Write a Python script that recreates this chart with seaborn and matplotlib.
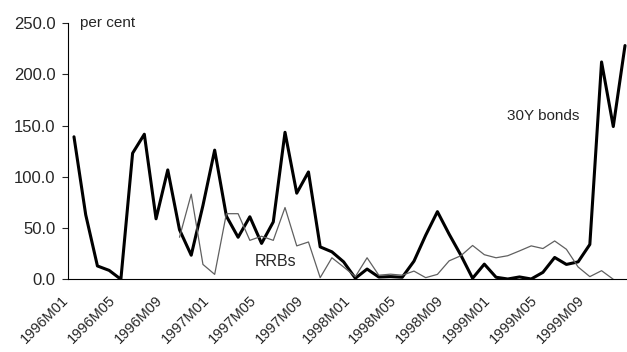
import numpy as np
import pandas as pd
import matplotlib
matplotlib.use("Agg")
import matplotlib.pyplot as plt
import matplotlib.transforms as mtransforms
import seaborn as sns

# Monthly data, 1996M01 - 1999M12
months = [f"{y}M{m:02d}" for y in range(1996, 2000) for m in range(1, 13)]

bonds_30y = [139, 63, 13, 8.7, 0, 123, 141.5, 59, 106.7, 48.4, 23.5, 72,
             126, 61.6, 41, 61, 35, 56, 143.4, 84, 104.7, 31.6, 26.8, 17,
             1, 10, 2.2, 2.6, 2, 17.7, 43, 66, 44, 23.5, 1, 14.8,
             2, 0.3, 2.3, 0.3, 6.8, 21.3, 14.5, 17, 34, 212, 149, 228]

rrbs = [np.nan] * 9 + [41, 83, 14.5,
        4.8, 64, 64, 38, 42, 38, 70, 32.6, 36.4, 1.6, 21, 12,
        2.6, 21, 4, 5, 4, 8, 1.6, 4.8, 18, 23, 33, 24,
        21, 23, 27.7, 32.6, 30, 37.4, 29.3, 12, 2.6, 8.4, 0] + [np.nan]

tick_labels = ["1996M01", "1996M05", "1996M09", "1997M01", "1997M05", "1997M09",
               "1998M01", "1998M05", "1998M09", "1999M01", "1999M05", "1999M09"]
y_ticks = [0, 50, 100, 150, 200, 250]

df = pd.DataFrame({"idx": range(len(months)), "month": months,
                   "30Y bonds": bonds_30y, "RRBs": rrbs})

sns.set_style("ticks")
plt.rcParams['font.family'] = ['Liberation Sans', 'DejaVu Sans']

fig = plt.figure(figsize=(6.27, 3.52), dpi=100)
ax = fig.add_axes([68 / 627, 72.7 / 352, 559 / 627, 256.3 / 352])

sns.lineplot(data=df, x="idx", y="30Y bonds", color="black",
             linewidth=2.2, ax=ax, zorder=2)
sns.lineplot(data=df, x="idx", y="RRBs", color="#606060",
             linewidth=0.9, ax=ax, zorder=3)

ax.set_xlim(-0.51, 47.17)
ax.set_ylim(0, 250)
ax.set_xlabel("")
ax.set_ylabel("")

ax.set_yticks(y_ticks)
ax.set_yticklabels([f"{v:.1f}" for v in y_ticks], fontsize=12)
ax.set_xticks(range(0, len(months), 4))
ax.set_xticklabels(tick_labels, rotation=45, ha="right",
                   rotation_mode="anchor", fontsize=10.5)

ax.tick_params(axis="x", length=0, pad=10)
ax.tick_params(axis="y", length=4, width=0.8, direction="out", pad=5)
offset = mtransforms.ScaledTranslation(-9 / 72, 0, fig.dpi_scale_trans)
for lab in ax.get_xticklabels():
    lab.set_transform(lab.get_transform() + offset)

for side in ["top", "right"]:
    ax.spines[side].set_visible(False)
for side in ["left", "bottom"]:
    ax.spines[side].set_linewidth(0.8)
    ax.spines[side].set_color("black")

ax.text(0.55, 250, "per cent", fontsize=11, va="center", ha="left")
ax.text(36.9, 159, "30Y bonds", fontsize=11, va="center", ha="left")
ax.text(15.4, 17.8, "RRBs", fontsize=11.5, va="center", ha="left")

fig.savefig("out.png", dpi=100)
